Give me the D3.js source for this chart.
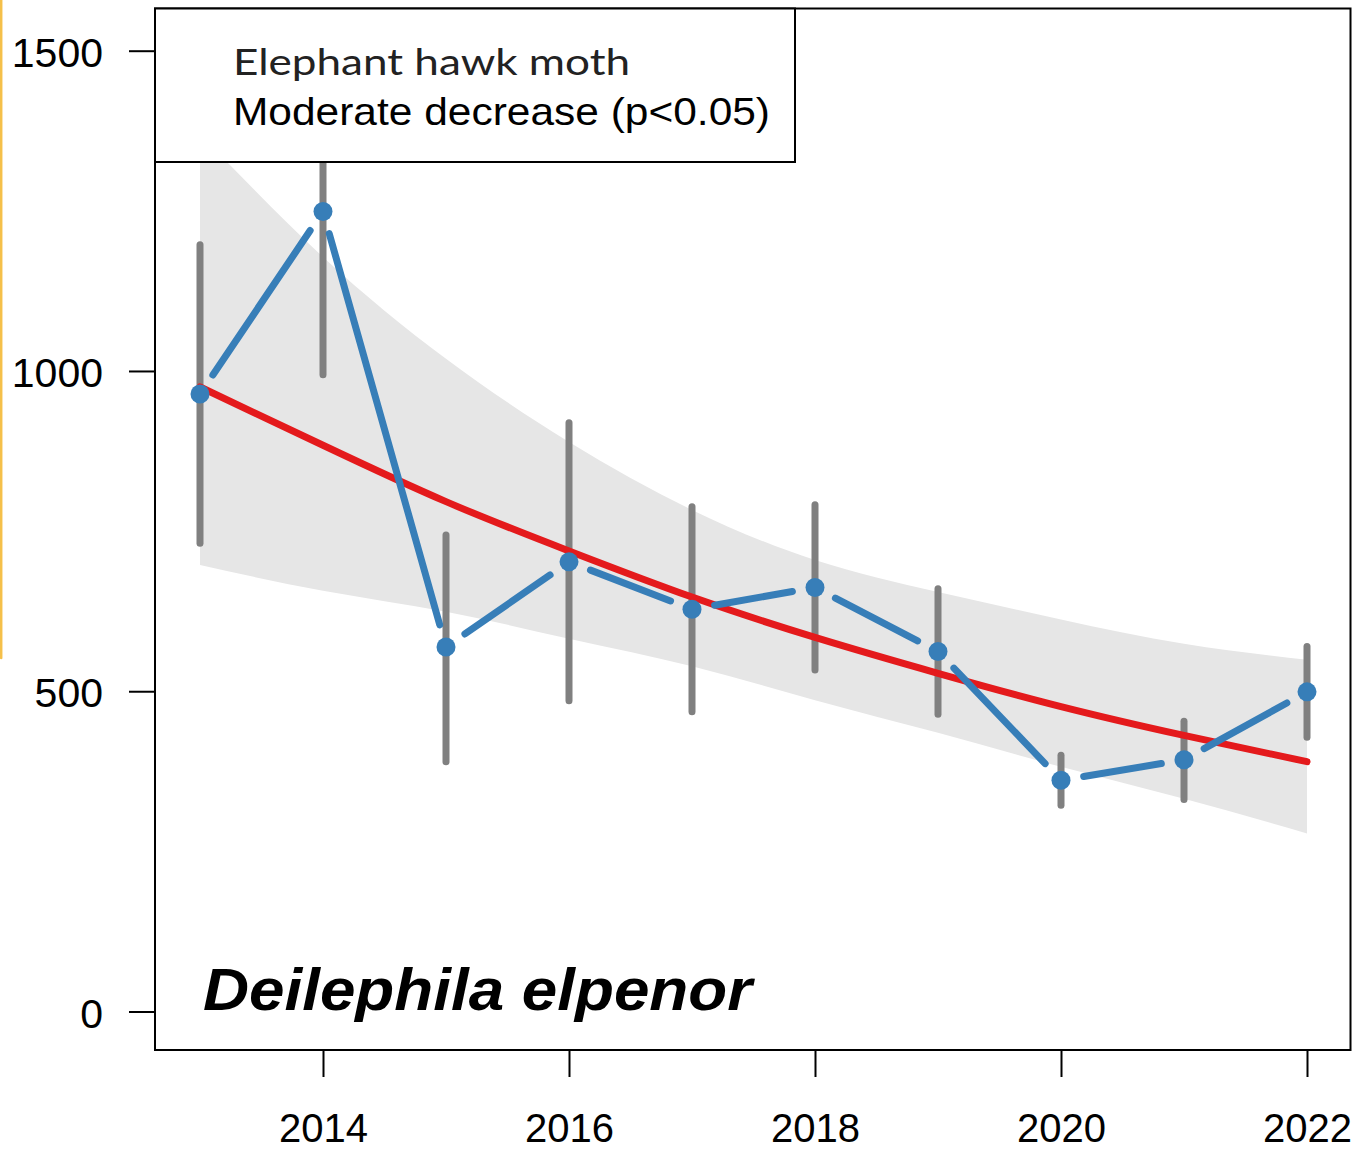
<!DOCTYPE html>
<html>
<head>
<meta charset="utf-8">
<script src="https://cdn.jsdelivr.net/npm/d3@7"></script>
<style>
  html, body { margin: 0; padding: 0; background: #fff; }
  svg { display: block; }
</style>
</head>
<body>
<svg id="chart" width="1360" height="1149"></svg>
<script>
// ---- data ----
const years      = [2013, 2014, 2015, 2016, 2017, 2018, 2019, 2020, 2021, 2022];
const indexVals  = [964, 1249, 569, 702, 628, 662, 562, 361, 393, 499];
const ciLower    = [731, 994, 390, 485, 468, 533, 464, 322, 331, 428];
const ciUpper    = [1197, 1450, 744, 919, 788, 791, 660, 400, 453, 570];
const trendVals  = [975, 884, 796, 719, 647, 584, 528, 476, 431, 390];
const bandLower  = [697, 657, 624, 582, 539, 486, 435, 382, 332, 278];
const bandUpper  = [1370, 1178, 1019, 889, 783, 705, 655, 612, 574, 549];
const yTicks     = [0, 500, 1000, 1500];
const xTicks     = [2014, 2016, 2018, 2020, 2022];
const titleLine1 = "Elephant hawk moth";
const titleLine2 = "Moderate decrease (p<0.05)";
const speciesName = "Deilephila elpenor";

// ---- layout ----
const plot = { left: 155, top: 8.5, right: 1350.5, bottom: 1050 };
const svg = d3.select("#chart");

const x = d3.scaleLinear().domain([2013, 2022]).range([200, 1307]);
const y = d3.scaleLinear().domain([0, 1500]).range([1011.5, 50.7]);

const rows = years.map((yr, i) => ({
  year: yr, v: indexVals[i], lo: ciLower[i], hi: ciUpper[i],
  t: trendVals[i], bl: bandLower[i], bu: bandUpper[i]
}));

// decorative edge line on the left (as in the reference image)
svg.append("path")
  .attr("d", "M1.2,0 L1.2,658")
  .attr("stroke", "#f5c04a").attr("stroke-width", 2.5)
  .attr("stroke-linecap", "round").attr("fill", "none");

svg.append("defs").append("clipPath").attr("id", "plotclip")
  .append("rect")
  .attr("x", plot.left).attr("y", plot.top)
  .attr("width", plot.right - plot.left).attr("height", plot.bottom - plot.top);

const g = svg.append("g").attr("clip-path", "url(#plotclip)");

// confidence band
g.append("path")
  .datum(rows)
  .attr("fill", "#e6e6e6")
  .attr("d", d3.area()
    .x(d => x(d.year))
    .y0(d => y(d.bl))
    .y1(d => y(d.bu))
    .curve(d3.curveNatural));

// error bars
g.selectAll("line.err").data(rows).enter().append("line")
  .attr("class", "err")
  .attr("x1", d => x(d.year)).attr("x2", d => x(d.year))
  .attr("y1", d => y(d.lo)).attr("y2", d => y(d.hi))
  .attr("stroke", "#808080").attr("stroke-width", 7)
  .attr("stroke-linecap", "round");

// trend line
g.append("path")
  .datum(rows)
  .attr("fill", "none")
  .attr("stroke", "#e41a1c").attr("stroke-width", 7)
  .attr("stroke-linecap", "round")
  .attr("d", d3.line().x(d => x(d.year)).y(d => y(d.t)).curve(d3.curveNatural));

// index line with gaps at points (R type="b")
const gap = 23;
const segs = d3.pairs(rows).map(([a, b]) => {
  const x1 = x(a.year), y1 = y(a.v), x2 = x(b.year), y2 = y(b.v);
  const len = Math.hypot(x2 - x1, y2 - y1);
  const ux = (x2 - x1) / len, uy = (y2 - y1) / len;
  return { x1: x1 + ux * gap, y1: y1 + uy * gap, x2: x2 - ux * gap, y2: y2 - uy * gap };
});
g.selectAll("line.seg").data(segs).enter().append("line")
  .attr("class", "seg")
  .attr("x1", d => d.x1).attr("y1", d => d.y1)
  .attr("x2", d => d.x2).attr("y2", d => d.y2)
  .attr("stroke", "#377eb8").attr("stroke-width", 7)
  .attr("stroke-linecap", "round");

// points
g.selectAll("circle.pt").data(rows).enter().append("circle")
  .attr("class", "pt")
  .attr("cx", d => x(d.year)).attr("cy", d => y(d.v))
  .attr("r", 9.5).attr("fill", "#377eb8");

// plot frame
svg.append("rect")
  .attr("x", plot.left).attr("y", plot.top)
  .attr("width", plot.right - plot.left).attr("height", plot.bottom - plot.top)
  .attr("fill", "none").attr("stroke", "#000").attr("stroke-width", 2);

// y axis
const yAxis = svg.append("g")
  .attr("transform", `translate(${plot.left},0)`)
  .call(d3.axisLeft(y).tickValues(yTicks).tickSize(26).tickPadding(26).tickFormat(d3.format("d")));
yAxis.select(".domain").remove();
yAxis.selectAll(".tick line").attr("stroke", "#000").attr("stroke-width", 2);
yAxis.selectAll(".tick text")
  .attr("dy", 15.5)
  .attr("fill", "#000")
  .style("font-family", "'Liberation Sans', Arial, sans-serif")
  .style("font-size", "41px");

// x axis
const xAxis = svg.append("g")
  .attr("transform", `translate(0,${plot.bottom})`)
  .call(d3.axisBottom(x).tickValues(xTicks).tickSize(27).tickFormat(d3.format("d")));
xAxis.select(".domain").remove();
xAxis.selectAll(".tick line").attr("stroke", "#000").attr("stroke-width", 2);
xAxis.selectAll(".tick text")
  .attr("y", 92).attr("dy", 0)
  .attr("fill", "#000")
  .style("font-family", "'Liberation Sans', Arial, sans-serif")
  .style("font-size", "40px");

// legend box
svg.append("rect")
  .attr("x", plot.left).attr("y", plot.top)
  .attr("width", 640).attr("height", 153.5)
  .attr("fill", "#fff").attr("stroke", "#000").attr("stroke-width", 2);

svg.append("text")
  .attr("x", 233).attr("y", 74.5)
  .attr("fill", "#222")
  .attr("textLength", 397).attr("lengthAdjust", "spacingAndGlyphs")
  .style("font-family", "Lato, 'Open Sans', sans-serif")
  .style("font-size", "37px")
  .text(titleLine1);

svg.append("text")
  .attr("x", 233).attr("y", 124.5)
  .attr("fill", "#000")
  .attr("textLength", 537).attr("lengthAdjust", "spacingAndGlyphs")
  .style("font-family", "'Liberation Sans', Arial, sans-serif")
  .style("font-size", "38.5px")
  .text(titleLine2);

// species name
svg.append("text")
  .attr("x", 203).attr("y", 1010)
  .attr("fill", "#000")
  .attr("textLength", 549).attr("lengthAdjust", "spacingAndGlyphs")
  .style("font-family", "'Liberation Sans', Arial, sans-serif")
  .style("font-size", "59px")
  .style("font-weight", "bold")
  .style("font-style", "italic")
  .text(speciesName);
</script>
</body>
</html>
